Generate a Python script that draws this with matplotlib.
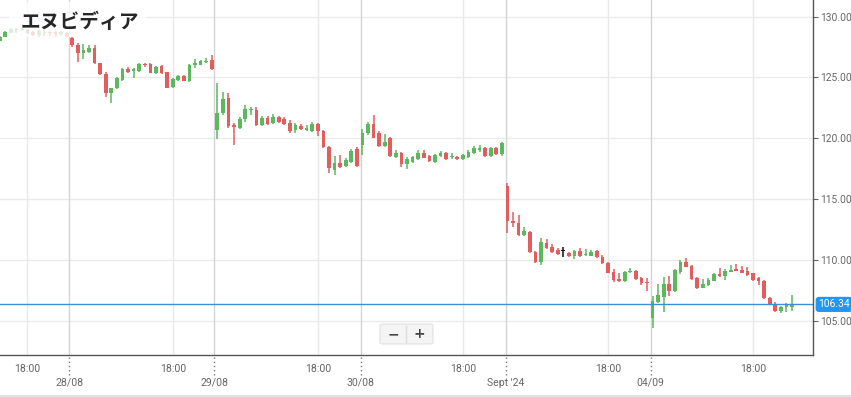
import matplotlib
matplotlib.use("Agg")
import matplotlib.pyplot as plt
import matplotlib.transforms as mtransforms
from matplotlib.patches import Rectangle, FancyBboxPatch
from matplotlib.lines import Line2D
import numpy as np

# 30-minute candles, NVIDIA (エヌビディア), 27/08 evening -> 04/09
opens = [128.03, 128.36, 128.68, 128.95, 128.90, 128.91, 128.77, 128.50, 128.77, 128.77,
         128.72, 128.58, 128.63, 128.22, 127.71, 126.99, 127.07, 127.40, 126.15, 125.29,
         123.70, 124.11, 124.79, 125.70, 125.56, 125.56, 126.11, 126.11, 125.39, 125.95,
         125.43, 124.19, 124.79, 125.12, 124.74, 126.03, 126.03, 126.27, 126.44,
         120.64, 122.08, 123.31, 121.09, 120.84, 121.59, 122.33, 122.33, 121.09, 121.67,
         121.26, 121.75, 121.59, 121.26, 120.68, 121.01, 120.68, 120.60, 121.18, 120.60,
         119.28, 117.39, 117.97, 117.72, 118.05, 119.12,
         119.45, 120.41, 121.15, 120.41, 119.39, 120.05, 118.49, 118.77, 117.89, 118.05,
         118.30, 118.79, 118.54, 118.05, 118.54, 118.79, 118.46, 118.46, 118.30, 118.46,
         118.79, 119.04, 119.20, 118.54, 119.20, 118.71,
         116.08, 113.20, 113.03, 112.04, 112.29, 110.65, 109.83, 111.39, 111.06, 110.81,
         110.73, 110.57, 110.32, 110.73, 110.40, 110.35, 110.73, 110.26, 109.77, 109.03,
         108.40, 108.27, 109.00, 109.09, 108.49, 108.21,
         105.22, 106.56, 106.97, 108.02, 107.47, 109.03, 109.85, 109.52, 108.49, 107.71,
         107.94, 108.29, 108.84, 108.68, 109.03, 109.23, 109.17, 109.11, 108.90, 108.49,
         108.29, 106.84, 106.37, 105.82, 106.15, 106.12]
highs = [128.45, 128.82, 129.03, 129.05, 129.05, 129.00, 128.85, 128.90, 128.90, 128.85,
         128.80, 128.85, 128.72, 128.31, 127.84, 127.75, 127.67, 127.67, 126.22, 125.48,
         124.11, 125.07, 125.76, 125.89, 125.76, 126.22, 126.22, 126.19, 125.95, 126.03,
         125.48, 124.93, 125.21, 125.21, 126.11, 126.50, 126.44, 126.58, 126.85,
         124.52, 123.81, 123.73, 121.26, 121.75, 122.74, 122.57, 122.57, 121.83, 121.83,
         122.00, 121.83, 121.75, 121.50, 121.26, 121.18, 121.09, 121.34, 121.26, 120.68,
         119.37, 118.54, 118.63, 118.38, 119.12, 119.28,
         120.76, 121.34, 121.92, 120.60, 120.33, 120.13, 119.04, 118.90, 118.46, 118.54,
         119.04, 119.04, 118.63, 118.70, 118.96, 118.87, 118.79, 118.54, 118.70, 119.04,
         119.37, 119.45, 119.28, 119.28, 119.28, 119.69,
         116.33, 113.94, 113.69, 112.71, 112.38, 110.73, 111.80, 111.72, 111.31, 110.98,
         111.06, 110.67, 110.81, 110.98, 110.90, 110.81, 110.81, 110.40, 109.85, 109.25,
         108.95, 109.06, 109.31, 109.17, 108.62, 108.49,
         107.03, 108.00, 108.57, 108.68, 109.23, 109.99, 110.13, 109.58, 108.57, 108.40,
         108.49, 108.95, 109.31, 109.23, 109.58, 109.66, 109.50, 109.39, 108.95, 108.62,
         108.35, 106.92, 106.56, 106.23, 106.48, 107.11]
lows = [127.96, 128.29, 128.62, 128.63, 128.80, 128.58, 128.45, 128.33, 128.41, 128.41,
        128.36, 128.41, 128.31, 127.47, 126.30, 126.50, 126.99, 126.11, 125.21, 123.37,
        122.88, 124.03, 124.74, 125.35, 124.93, 125.49, 125.89, 125.33, 125.29, 125.29,
        124.11, 124.11, 124.74, 124.71, 124.65, 125.76, 126.00, 126.17, 125.62,
        119.90, 121.92, 120.84, 119.45, 120.76, 121.34, 121.92, 121.01, 121.01, 121.09,
        121.18, 121.26, 121.09, 120.44, 120.44, 120.68, 120.60, 120.52, 120.19, 119.20,
        117.15, 116.98, 117.55, 117.64, 117.97, 117.64,
        118.63, 120.27, 120.00, 119.28, 119.31, 118.46, 118.40, 117.66, 117.48, 117.97,
        118.22, 118.35, 118.05, 118.00, 118.46, 118.22, 118.30, 118.22, 118.22, 118.38,
        118.70, 118.87, 118.46, 118.46, 118.63, 118.54,
        112.21, 112.71, 111.96, 111.96, 110.57, 109.75, 109.58, 110.90, 110.60, 110.40,
        110.26, 110.22, 110.07, 110.26, 110.32, 110.30, 110.16, 109.67, 108.90, 108.21,
        108.21, 108.21, 108.95, 108.35, 107.94, 107.47,
        104.40, 106.48, 105.74, 107.03, 107.39, 108.82, 109.41, 108.35, 107.61, 107.67,
        107.85, 108.27, 108.60, 108.35, 108.98, 109.09, 108.90, 108.70, 108.29, 107.94,
        106.76, 106.35, 105.74, 105.61, 105.74, 105.82]
closes = [128.36, 128.77, 128.96, 128.87, 128.95, 128.68, 128.50, 128.85, 128.63, 128.63,
          128.58, 128.72, 128.36, 127.67, 126.99, 127.26, 127.40, 126.17, 125.29, 123.75,
          124.11, 124.93, 125.67, 125.43, 125.67, 126.11, 125.99, 125.39, 125.89, 125.39,
          124.16, 124.85, 125.12, 124.74, 126.03, 126.17, 126.38, 126.38, 125.67,
          122.06, 123.23, 121.01, 120.89, 121.59, 122.41, 122.41, 121.09, 121.67, 121.18,
          121.75, 121.34, 121.18, 120.60, 121.09, 120.76, 120.84, 121.18, 120.60, 119.28,
          117.55, 117.97, 117.64, 118.22, 118.96, 117.72,
          120.41, 121.15, 120.05, 119.39, 119.72, 118.57, 118.77, 117.86, 118.30, 118.46,
          118.79, 118.38, 118.13, 118.63, 118.79, 118.30, 118.54, 118.30, 118.63, 118.87,
          119.20, 119.20, 118.54, 119.20, 118.71, 119.61,
          113.20, 113.03, 112.04, 112.38, 110.65, 109.83, 111.47, 110.98, 110.65, 110.48,
          110.73, 110.32, 110.73, 110.32, 110.48, 110.67, 110.24, 109.72, 108.95, 108.35,
          108.29, 109.00, 109.09, 108.40, 108.13, 108.13,
          106.62, 107.11, 108.02, 107.47, 109.17, 109.85, 109.44, 108.40, 107.67, 108.02,
          108.35, 108.84, 108.68, 109.11, 109.17, 109.11, 108.95, 108.76, 108.35, 108.27,
          106.84, 106.37, 105.82, 106.15, 106.29, 106.34]

price_ticks = [105, 110, 115, 120, 125, 130]
time_labels = ["18:00"] * 6
day_labels = ["28/08", "29/08", "30/08", "Sept '24", "04/09"]
last_price = 106.34
title = "エヌビディア"

# layout (candle index units on x)
time_pos = [4.95, 31.1, 57.1, 83.1, 109.1, 135.05]
day_pos = [12.47, 38.46, 64.7, 90.7, 116.67]

W, H = 851, 397
fig = plt.figure(figsize=(W / 100, H / 100), dpi=100)
fig.patch.set_facecolor("white")
ax = fig.add_axes([0, 42 / H, 812.5 / W, 355 / H])
ax.set_xlim(0.05, 145.66)
ax.set_ylim(102.18, 131.37)

# grid
for y in price_ticks:
    ax.axhline(y, color="#ebebeb", lw=1, zorder=0)
for x in time_pos:
    ax.axvline(x, color="#e8e8e8", lw=1, zorder=0)
for x in day_pos:
    ax.axvline(x, color="#d4d4d4", lw=1, zorder=0)

o = np.array(opens)
h = np.array(highs)
l = np.array(lows)
c = np.array(closes)
idx = np.arange(len(o))
colors = np.where(c > o, "#5cb85c", np.where(c < o, "#e35d5d", "#111111"))

ax.vlines(idx, l, h, colors=colors, lw=1.1, zorder=2)
body_lo = np.minimum(o, c)
body_h = np.maximum(np.abs(c - o), 0.09)
ax.bar(idx, body_h, bottom=body_lo, width=0.66, color=colors, lw=0, zorder=3)

# last price line
ax.axhline(last_price, color="#3b8fd6", lw=1, zorder=4)
trans_y = mtransforms.blended_transform_factory(ax.transAxes, ax.transData)
ax.text(1.007, last_price, f"{last_price:.2f}", transform=trans_y, ha="left", va="center",
        fontsize=7.4, family="Roboto", color="white", clip_on=False, zorder=6,
        bbox=dict(boxstyle="round,pad=0.25,rounding_size=0.3", fc="#2196f3", ec="none"))

# spines / ticks
for s in ["top", "left"]:
    ax.spines[s].set_visible(False)
ax.spines["right"].set_color("#555555")
ax.spines["bottom"].set_color("#555555")
ax.spines["right"].set_linewidth(1)
ax.spines["bottom"].set_linewidth(1)
ax.yaxis.tick_right()
ax.set_yticks(price_ticks)
ax.set_yticklabels([f"{v:.2f}" for v in price_ticks])
ax.tick_params(axis="y", direction="out", length=3.5, width=0.8, color="#666666",
               labelcolor="#666666", labelsize=7.4, pad=2)
for lab in ax.get_yticklabels():
    lab.set_family("Roboto")
ax.set_xticks([])

trans_x = mtransforms.blended_transform_factory(ax.transData, fig.transFigure)
for x, t in zip(time_pos, time_labels):
    ax.text(x, 1 - 369 / H, t, transform=trans_x, ha="center", va="center",
            fontsize=7.6, family="Roboto", color="#666666", clip_on=False)
for x, t in zip(day_pos, day_labels):
    ax.text(x, 1 - 383 / H, t, transform=trans_x, ha="center", va="center",
            fontsize=7.6, family="Roboto", color="#666666", clip_on=False)
    ax.add_line(Line2D([x, x], [1 - 357 / H, 1 - 375 / H], transform=trans_x,
                       color="#777777", lw=1, ls=(0, (1, 2)), clip_on=False))

# translucent box behind the title
fig.add_artist(Rectangle((9 / W, 1 - 37 / H), 137 / W, 35 / H, transform=fig.transFigure,
                         fc="white", ec="none", alpha=0.78, zorder=5))
fig.text(21 / W, 1 - 22.5 / H, title, ha="left", va="center", fontsize=14.2,
         family=["Noto Sans CJK JP", "DejaVu Sans"], weight="bold", color="#262626",
         zorder=6)

# zoom buttons
fig.add_artist(FancyBboxPatch((380 / W, 1 - 344 / H), 53 / W, 20 / H,
                              boxstyle="round,pad=0,rounding_size=0.004",
                              transform=fig.transFigure, fc="#f4f4f4", ec="#e2e2e2",
                              lw=0.8, zorder=5))
fig.add_artist(Line2D([406 / W, 406 / W], [1 - 342 / H, 1 - 326 / H],
                      transform=fig.transFigure, color="#dddddd", lw=1, zorder=6))
fig.text(393 / W, 1 - 334 / H, "−", ha="center", va="center", fontsize=10,
         weight="bold", color="#444444", zorder=7)
fig.text(419 / W, 1 - 334 / H, "+", ha="center", va="center", fontsize=10,
         weight="bold", color="#444444", zorder=7)

# grey strip at the bottom
fig.add_artist(Rectangle((0, 0), 1, 2.5 / H, transform=fig.transFigure,
                         fc="#e3e3e3", ec="none", zorder=5))

fig.savefig("out.png", dpi=100)
